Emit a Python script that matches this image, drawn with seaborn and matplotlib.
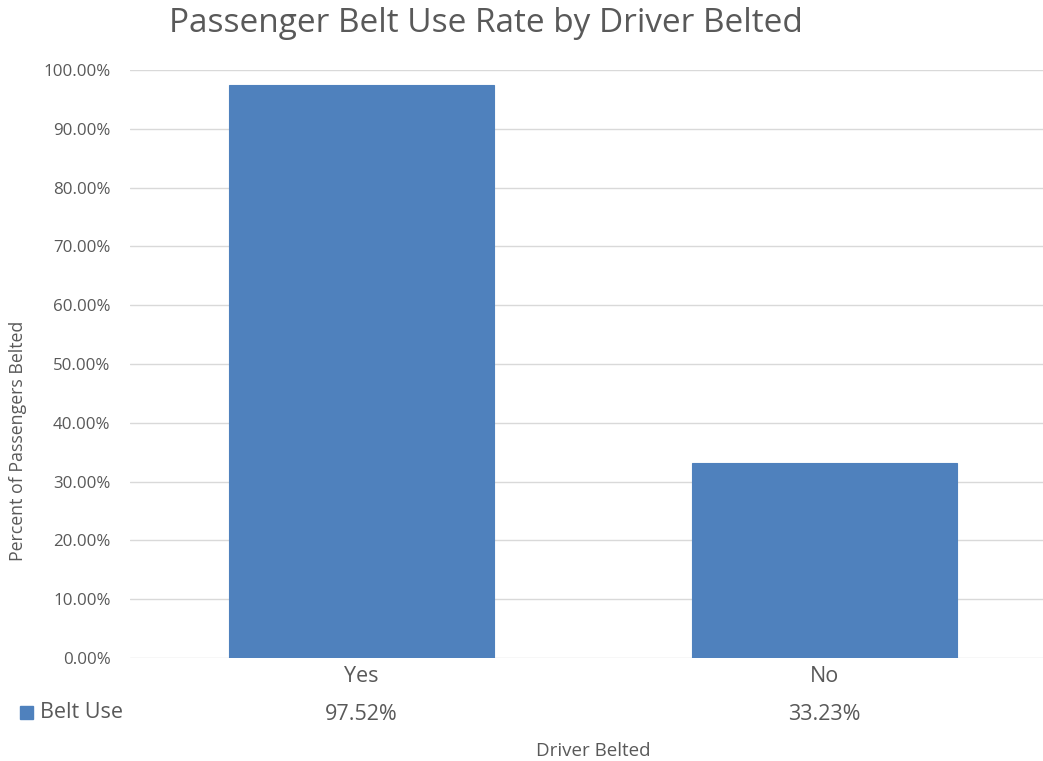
import matplotlib
matplotlib.use("Agg")
import matplotlib.pyplot as plt
import seaborn as sns
import pandas as pd

categories = ["Yes", "No"]
belt_use = [97.52, 33.23]
series_name = "Belt Use"
yticks = [0, 10, 20, 30, 40, 50, 60, 70, 80, 90, 100]

sns.set_style("white")
plt.rcParams['font.family'] = ['Open Sans', 'DejaVu Sans']

W, H = 1043, 761
fig = plt.figure(figsize=(W / 100, H / 100), dpi=100)
ax = fig.add_axes([130 / W, (H - 658) / H, (W - 130) / W, 588 / H])

df = pd.DataFrame({"cat": categories, "val": belt_use})
sns.barplot(data=df, x="cat", y="val", ax=ax, color="#4f81bd", width=0.572,
            saturation=1, edgecolor="#4f81bd", linewidth=0.8, zorder=3)

ax.set_xlim(-0.5, 1 + (W - 824.5) / 463)
ax.set_ylim(0, 100)
ax.set_yticks(yticks)
ax.set_yticklabels([f"{v:.2f}%" for v in yticks], color="#595959", fontsize=12.2)
ax.tick_params(axis="y", length=0, pad=14)
ax.set_xticks([])
ax.set_xlabel("")
ax.set_ylabel("")
for s in ax.spines.values():
    s.set_visible(False)
ax.grid(axis="y", color="#d9d9d9", linewidth=1, zorder=0)
ax.set_axisbelow(True)

gray = "#595959"
fig.text(486 / W, 1 - 24 / H, "Passenger Belt Use Rate by Driver Belted",
         ha="center", va="center", fontsize=24, color=gray)
fig.text(18 / W, 1 - 441 / H, "Percent of Passengers Belted", rotation=90,
         ha="center", va="center", fontsize=12.8, color=gray)
fig.text(593 / W, 1 - 751 / H, "Driver Belted", ha="center", va="center",
         fontsize=13.5, color=gray)

# data table
centers_px = [361.5, 824.5]
for cx, c, v in zip(centers_px, categories, belt_use):
    fig.text(cx / W, 1 - 677 / H, c, ha="center", va="center", fontsize=15.5, color=gray)
    fig.text(cx / W, 1 - 714 / H, f"{v:.2f}%", ha="center", va="center",
             fontsize=15.5, color=gray)
fig.patches.append(matplotlib.patches.Rectangle((20 / W, 1 - 719 / H), 13 / W, 13 / H,
                                                transform=fig.transFigure,
                                                color="#4f81bd", figure=fig))
fig.text(40 / W, 1 - 713 / H, series_name, ha="left", va="center", fontsize=15.5, color=gray)

fig.savefig("out.png", dpi=100)
